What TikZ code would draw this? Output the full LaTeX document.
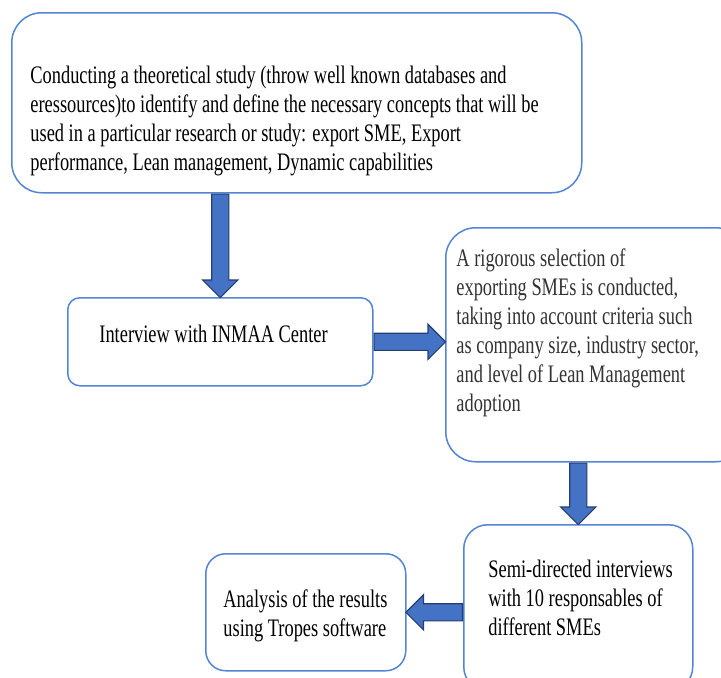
\documentclass[tikz,border=0pt]{standalone}
\usepackage{fontspec}
\setmainfont{Liberation Serif}[FakeStretch=0.73]
\usetikzlibrary{shapes.arrows,calc}
\definecolor{boxline}{RGB}{84,132,212}
\definecolor{arrowblue}{RGB}{68,114,196}
\definecolor{arrowedge}{RGB}{38,62,110}
\tikzset{
	flowbox/.style={draw=boxline, line width=0.75pt, fill=white, inner sep=0pt, anchor=north west},
	boxtext/.style={anchor=west, inner sep=0pt, align=left},
	flowarrow/.style={single arrow, draw=arrowedge, fill=arrowblue, line width=0.6pt,
		inner xsep=0pt, inner ysep=4pt, single arrow head extend=4.5pt, single arrow tip angle=90}
}
\newcommand{\blockarrow}[2]{%
	\path let \p1=(#1), \p2=(#2), \n1={atan2(\y2-\y1,\x2-\x1)}, \n2={veclen(\x2-\x1,\y2-\y1)} in
		node[flowarrow, rotate=\n1, minimum height=\n2, anchor=tail] at (\p1) {};}
\begin{document}
\begin{tikzpicture}[x=0.5pt, y=-0.5pt, font=\fontsize{12.6}{14.5}\selectfont]
	\useasboundingbox (0,0) rectangle (721,677);
	\clip (0,0) rectangle (721,677);
	\node[flowbox, rounded corners=15pt, minimum width=285pt, minimum height=90pt,
		label={[boxtext, xshift=9.5pt, yshift=-9pt]west:{Conducting a theoretical study (throw well known databases and\\
		eressources)to identify and define the necessary concepts that will be\\
		used in a particular research or study: export SME, Export\\
		performance, Lean management, Dynamic capabilities}}] (study) at (11,12) {};
	\node[flowbox, rounded corners=6pt, minimum width=152.5pt, minimum height=44pt,
		label={[boxtext, xshift=16pt, yshift=4pt]west:Interview with INMAA Center}] (inmaa) at (67,297) {};
	\node[flowbox, rounded corners=15pt, minimum width=150pt, minimum height=117pt,
		label={[boxtext, text=black!80, xshift=5.5pt, yshift=6pt]west:{A rigorous selection of\\ exporting SMEs is conducted,\\
		taking into account criteria such\\ as company size, industry sector,\\ and level of Lean Management\\ adoption}}] (selection) at (445,227) {};
	\node[flowbox, rounded corners=12pt, minimum width=114.5pt, minimum height=83pt,
		label={[boxtext, xshift=12.5pt, yshift=4.7pt]west:{Semi-directed interviews\\ with 10 responsables of\\ different SMEs}}] (interviews) at (463,524) {};
	\node[flowbox, rounded corners=10pt, minimum width=100pt, minimum height=58.5pt,
		label={[boxtext, xshift=9pt, yshift=-1.75pt]west:{Analysis of the results\\ using Tropes software}}] (analysis) at (205,553) {};
	% block arrows between the steps
	\blockarrow{study.south -| inmaa.north}{inmaa.north}
	\blockarrow{inmaa.east}{inmaa.east -| selection.west}
	\blockarrow{selection.south -| interviews.north}{interviews.north}
	\blockarrow{interviews.west |- analysis.east}{analysis.east}
\end{tikzpicture}
\end{document}
